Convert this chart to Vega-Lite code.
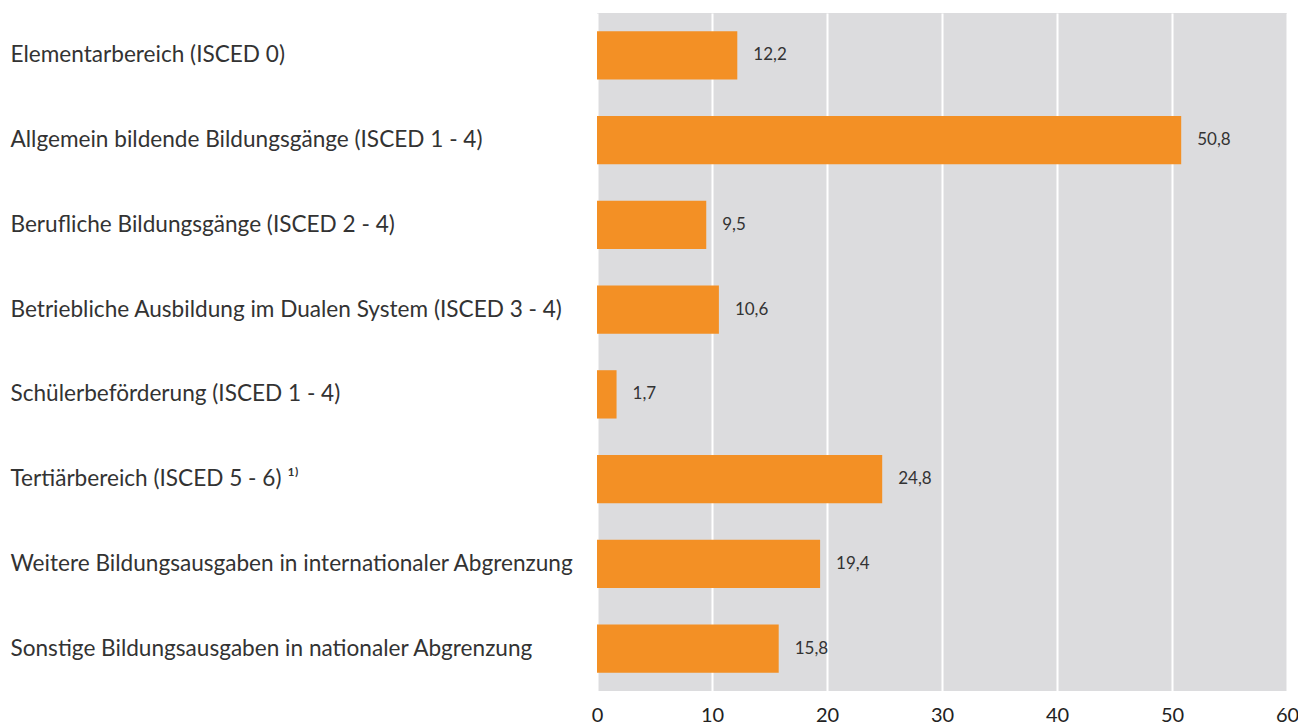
{
  "$schema": "https://vega.github.io/schema/vega-lite/v6.json",
  "autosize": {"type": "none"},
  "width": 690,
  "height": 678,
  "padding": {"left": 597, "top": 13, "right": 11, "bottom": 34},
  "background": "white",
  "data": {"values": [
    {"kategorie": "Elementarbereich (ISCED 0)", "wert": 12.2, "label": "12,2"},
    {"kategorie": "Allgemein bildende Bildungsgänge (ISCED 1 - 4)", "wert": 50.8, "label": "50,8"},
    {"kategorie": "Berufliche Bildungsgänge (ISCED 2 - 4)", "wert": 9.5, "label": "9,5"},
    {"kategorie": "Betriebliche Ausbildung im Dualen System (ISCED 3 - 4)", "wert": 10.6, "label": "10,6"},
    {"kategorie": "Schülerbeförderung (ISCED 1 - 4)", "wert": 1.7, "label": "1,7"},
    {"kategorie": "Tertiärbereich (ISCED 5 - 6) ¹⁾", "wert": 24.8, "label": "24,8"},
    {"kategorie": "Weitere Bildungsausgaben in internationaler Abgrenzung", "wert": 19.4, "label": "19,4"},
    {"kategorie": "Sonstige Bildungsausgaben in nationaler Abgrenzung", "wert": 15.8, "label": "15,8"}
  ]},
  "encoding": {
    "y": {
      "field": "kategorie", "type": "nominal", "sort": null,
      "scale": {"paddingInner": 0.43, "paddingOuter": 0.215},
      "axis": {
        "title": null, "ticks": false, "domain": false, "grid": false,
        "labelAlign": "left", "labelPadding": 587, "labelLimit": 0,
        "labelFont": "Lato", "labelFontSize": 22.6, "labelColor": "#333333"
      }
    },
    "x": {
      "field": "wert", "type": "quantitative",
      "scale": {"domain": [0, 60], "nice": false},
      "axis": {
        "title": null, "values": [0, 10, 20, 30, 40, 50, 60],
        "ticks": false, "domain": false, "grid": true,
        "gridColor": "#ffffff", "gridWidth": 2, "gridOpacity": 1,
        "labelPadding": 14, "labelFont": "Lato", "labelFontSize": 20,
        "labelColor": "#222222", "labelFlush": false, "labelOverlap": false
      }
    }
  },
  "layer": [
    {"mark": {"type": "bar", "color": "#F39025"}},
    {"mark": {"type": "text", "align": "left", "dx": 16, "font": "Lato", "fontSize": 17, "color": "#333333"},
     "encoding": {"text": {"field": "label"}}}
  ],
  "config": {
    "view": {"fill": "#DCDCDE", "stroke": null}
  }
}
